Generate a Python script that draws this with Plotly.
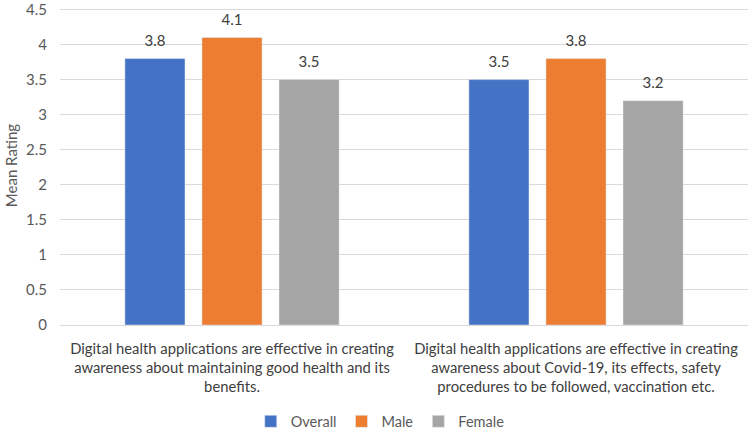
import plotly.graph_objects as go

categories = [
    "Digital health applications are effective in creating<br>awareness about maintaining good health and its<br>benefits.",
    "Digital health applications are effective in creating<br>awareness about Covid-19, its effects, safety<br>procedures to be followed, vaccination etc.",
]
series_names = ["Overall", "Male", "Female"]
overall = [3.8, 3.5]
male = [4.1, 3.8]
female = [3.5, 3.2]
colors = ["#4472C4", "#ED7D31", "#A5A5A5"]

fig = go.Figure()
for name, vals, col in zip(series_names, [overall, male, female], colors):
    fig.add_trace(go.Bar(
        x=categories, y=vals, name=name, marker_color=col, legendgroup=name,
    ))
for name, vals in zip(series_names, [overall, male, female]):
    fig.add_trace(go.Scatter(
        x=categories, y=vals, mode="markers+text", showlegend=False, legendgroup=name,
        marker=dict(size=12, color="rgba(0,0,0,0)"),
        text=[f"{v:.1f}" for v in vals], textposition="top center",
        textfont=dict(size=15, color="#404040"), cliponaxis=False, hoverinfo="skip",
    ))

fig.update_layout(
    width=750, height=430,
    margin=dict(l=60, r=2, t=6, b=105),
    paper_bgcolor="white", plot_bgcolor="white",
    font=dict(family="Lato", color="#595959", size=15),
    barmode="group", bargap=0.328, bargroupgap=0.22,
    scattermode="group", scattergap=0.328,
    legend=dict(orientation="h", xref="container", x=0.507, xanchor="center",
                yref="container", y=0.02, yanchor="middle",
                font=dict(size=14.5, color="#595959"), itemwidth=30),
    showlegend=True,
)
fig.update_yaxes(range=[0, 4.55], dtick=0.5, showgrid=True, gridcolor="#D9D9D9",
                 zeroline=False, showline=False, ticks="", automargin=False,
                 ticklabelstandoff=12, ticklabeloverflow="allow",
                 tickfont=dict(size=15, color="#595959"),
                 title=dict(text="Mean Rating", font=dict(size=15, color="#595959"), standoff=4))
fig.update_xaxes(showline=True, linecolor="#D9D9D9", ticks="", automargin=False,
                 ticklabelstandoff=10,
                 tickfont=dict(size=14.8, color="#404040"))
fig.write_html("out.html", config={"displayModeBar": False},
               post_script="document.body.style.margin='0';document.body.style.overflow='hidden';")
